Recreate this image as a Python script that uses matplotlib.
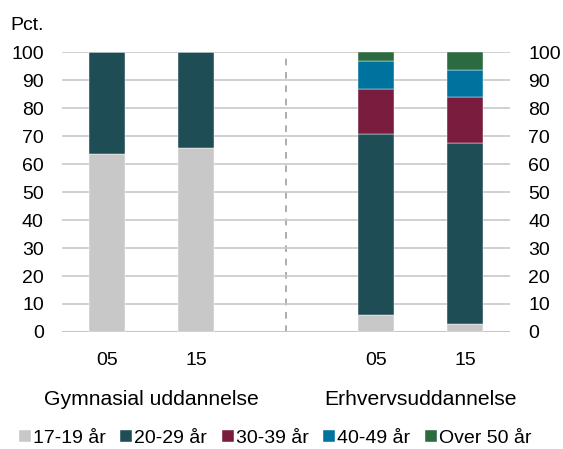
import numpy as np
import matplotlib.pyplot as plt

plt.rcParams['font.family'] = ['Liberation Sans', 'DejaVu Sans']
plt.rcParams['font.size'] = 14

# data
years = ["05", "15", "05", "15"]
groups = ["Gymnasial uddannelse", "Erhvervsuddannelse"]
series = ["17-19 år", "20-29 år", "30-39 år", "40-49 år", "Over 50 år"]
a17_19 = [63.6, 65.8, 6.2, 3.0]
a20_29 = [36.4, 34.2, 64.6, 64.6]
a30_39 = [0, 0, 16.1, 16.2]
a40_49 = [0, 0, 9.8, 9.7]
a50 = [0, 0, 3.3, 6.5]
colors = ["#c8c8c8", "#1e4d55", "#7a1c3d", "#00729e", "#2c6a3f"]

xpos = np.array([0, 1, 3, 4])

fig = plt.figure(figsize=(5.63, 4.49), dpi=100)
ax = fig.add_axes([0.110, 0.2606, 0.796, 0.6234])

bottom = np.zeros(4)
for vals, col, lab in zip([a17_19, a20_29, a30_39, a40_49, a50], colors, series):
    ax.bar(xpos, vals, 0.4, bottom=bottom, color=col, label=lab,
           edgecolor="white", linewidth=0.3, zorder=3)
    bottom += np.array(vals)

ax.set_ylim(0, 100)
ax.set_xlim(-0.5, 4.5)
ax.set_yticks(range(0, 101, 10))
ax.yaxis.grid(True, color="#c8c8c8", linewidth=1.2, zorder=0)
ax.axhline(0, color="#c0c0c0", linewidth=1.5, zorder=1)
ax.axvline(2, color="#a0a0a0", linestyle=(0, (4, 4)), linewidth=1.2, zorder=1)
for s in ax.spines.values():
    s.set_visible(False)
ax.set_xticks(xpos)
ax.set_xticklabels(years)
ax.tick_params(axis="x", length=0, pad=14.5)
ax.tick_params(axis="y", length=0, pad=13, labelright=True)

fig.text(10 / 563, 1 - 25 / 449, "Pct.", ha="left", va="center")
ax.text(0.5, -0.24, groups[0], transform=ax.get_xaxis_transform(), ha="center", va="center", fontsize=15.2)
ax.text(3.5, -0.24, groups[1], transform=ax.get_xaxis_transform(), ha="center", va="center", fontsize=15.2)

fig.legend(loc="center", bbox_to_anchor=(0.489, 0.024), ncol=5, frameon=False,
           handlelength=0.6, handleheight=0.6, handletextpad=0.12,
           columnspacing=0.75, borderaxespad=0)

fig.savefig("out.png", dpi=100)
